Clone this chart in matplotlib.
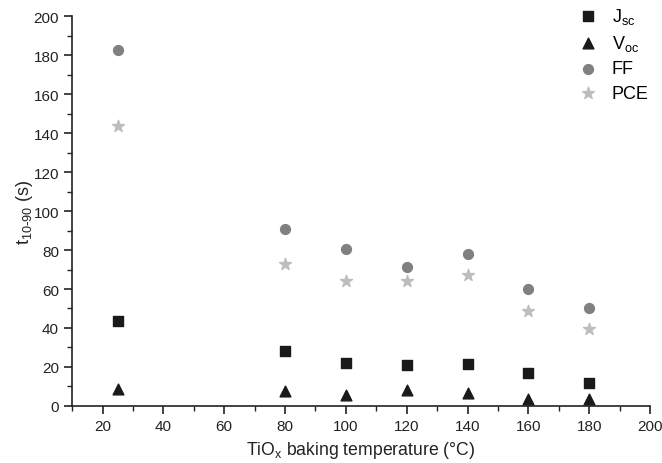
import matplotlib
matplotlib.use("Agg")
import matplotlib.pyplot as plt
from matplotlib.ticker import MultipleLocator

plt.rcParams['font.family'] = ['Liberation Sans', 'DejaVu Sans']

# baking temperature (°C)
temp = [25, 80, 100, 120, 140, 160, 180]

# t10-90 (s) for each parameter
jsc = [43.5, 28, 22, 21, 21.5, 17, 12]
voc = [8.5, 7.5, 5.5, 8, 6.5, 3.5, 3.5]
ff = [182.5, 91, 80.5, 71.5, 78, 60, 50.5]
pce = [143.5, 73, 64, 64, 67, 48.5, 39.5]

fig = plt.figure(figsize=(6.62, 4.64), dpi=100)
ax = fig.add_axes([0.109, 0.123, 0.873, 0.84])

ax.scatter(temp, jsc, marker='s', s=45, color='#1a1a1a', label=r'J$_{\mathregular{sc}}$', zorder=3)
ax.scatter(temp, voc, marker='^', s=60, color='#1a1a1a', label=r'V$_{\mathregular{oc}}$', zorder=3)
ax.scatter(temp, ff, marker='o', s=50, color='#808080', label='FF', zorder=3)
ax.scatter(temp, pce, marker='*', s=80, color='#bdbdbd', label='PCE', zorder=3)

ax.set_xlim(10, 200)
ax.set_ylim(0, 200)
ax.xaxis.set_major_locator(MultipleLocator(20))
ax.xaxis.set_minor_locator(MultipleLocator(10))
ax.yaxis.set_major_locator(MultipleLocator(20))
ax.yaxis.set_minor_locator(MultipleLocator(10))

for s in ['top', 'right']:
    ax.spines[s].set_visible(False)
for s in ['left', 'bottom']:
    ax.spines[s].set_linewidth(1.2)
    ax.spines[s].set_color('#222222')

ax.tick_params(which='major', direction='out', length=6, width=1.2, labelsize=11, colors='#222222')
ax.tick_params(which='minor', direction='out', length=3.5, width=1.0, colors='#222222')

ax.set_xlabel(r'TiO$_{\mathregular{x}}$ baking temperature (°C)', fontsize=12.7, color='#222222')
ax.set_ylabel(r't$_{\mathregular{10\text{-}90}}$ (s)', fontsize=13, color='#222222', labelpad=-1)

leg = ax.legend(loc='upper right', bbox_to_anchor=(1.01, 1.045), frameon=False, fontsize=13,
                handletextpad=0.3, labelspacing=0.4, borderaxespad=0.0)

fig.savefig('out.png', dpi=100)
